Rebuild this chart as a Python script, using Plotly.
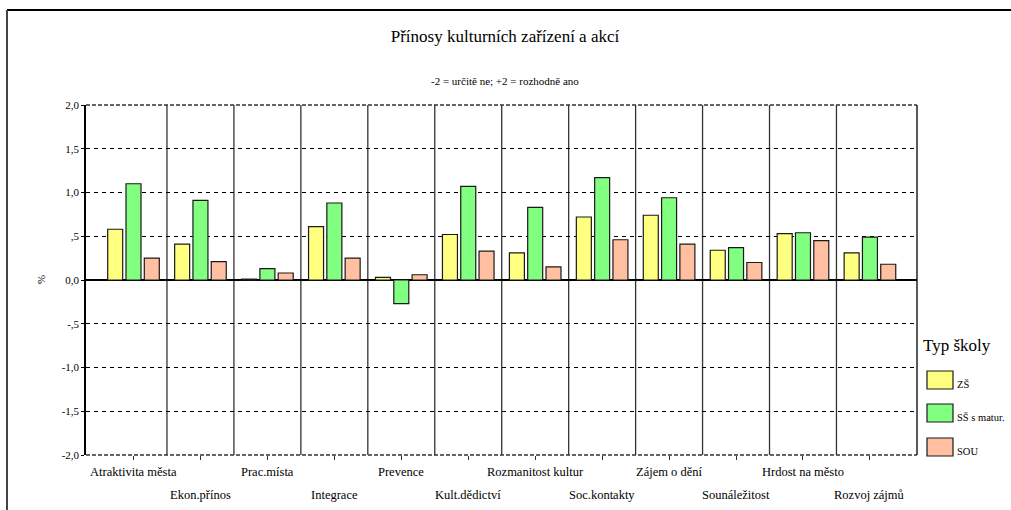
import plotly.graph_objects as go

categories = ["Atraktivita města", "Ekon.přínos", "Prac.místa", "Integrace", "Prevence",
              "Kult.dědictví", "Rozmanitost kultur", "Soc.kontakty", "Zájem o dění",
              "Sounáležitost", "Hrdost na město", "Rozvoj zájmů"]
zs = [0.58, 0.41, 0.01, 0.61, 0.03, 0.52, 0.31, 0.72, 0.74, 0.34, 0.53, 0.31]
ss_matur = [1.10, 0.91, 0.13, 0.88, -0.27, 1.07, 0.83, 1.17, 0.94, 0.37, 0.54, 0.49]
sou = [0.25, 0.21, 0.08, 0.25, 0.06, 0.33, 0.15, 0.46, 0.41, 0.20, 0.45, 0.18]
series_names = ["ZŠ", "SŠ s matur.", "SOU"]
series_values = [zs, ss_matur, sou]
series_colors = ["#FFFF80", "#80FF80", "#FFBFA0"]
ytick_vals = [2.0, 1.5, 1.0, 0.5, 0.0, -0.5, -1.0, -1.5, -2.0]
ytick_text = ["2,0", "1,5", "1,0", ",5", "0,0", "-,5", "-1,0", "-1,5", "-2,0"]

W, H = 1011, 510
L, R, T, B = 86, 917, 105, 455
FONT = "Liberation Serif"


def px2x(px):
    return (px - L) / (R - L)


def px2y(py):
    return (B - py) / (B - T)


fig = go.Figure()
for name, vals, col in zip(series_names, series_values, series_colors):
    fig.add_trace(go.Bar(x=categories, y=vals, name=name,
                         marker=dict(color=col, line=dict(color="#1a1a1a", width=1.2)),
                         showlegend=False))

shapes = []
# category separators
for i in range(len(categories) - 1):
    shapes.append(dict(type="line", xref="x", yref="paper", x0=i + 0.5, x1=i + 0.5,
                       y0=0, y1=1, line=dict(color="#333333", width=1.3), layer="below"))
# right border of plot area
shapes.append(dict(type="line", xref="paper", yref="paper", x0=1, x1=1, y0=0, y1=1,
                   line=dict(color="black", width=1.3)))
# top and bottom dashed edges of plot area
for yy in (0, 1):
    shapes.append(dict(type="line", xref="paper", yref="paper", x0=0, x1=1, y0=yy, y1=yy,
                       line=dict(color="#333333", width=1.6, dash="4px,2px")))
# outer frame
shapes.append(dict(type="line", xref="paper", yref="paper", x0=px2x(7), x1=px2x(1012),
                   y0=px2y(10), y1=px2y(10), line=dict(color="black", width=2)))
shapes.append(dict(type="line", xref="paper", yref="paper", x0=px2x(7), x1=px2x(7),
                   y0=px2y(10), y1=px2y(511), line=dict(color="#444444", width=2)))

annotations = []
# staggered category labels
for i, c in enumerate(categories):
    ypx = 472 if i % 2 == 0 else 495
    annotations.append(dict(x=c, xref="x", y=px2y(ypx), yref="paper", text=c,
                            showarrow=False, xanchor="center", yanchor="middle",
                            font=dict(family=FONT, size=12.5, color="black")))
# subtitle
annotations.append(dict(x=px2x(505), y=px2y(81), xref="paper", yref="paper",
                        text="-2 = určitě ne; +2 = rozhodně ano", showarrow=False,
                        xanchor="center", yanchor="middle",
                        font=dict(family=FONT, size=11, color="black")))
# y axis title
annotations.append(dict(x=px2x(41), y=px2y(280), xref="paper", yref="paper", text="%",
                        textangle=-90, showarrow=False, xanchor="center", yanchor="middle",
                        font=dict(family=FONT, size=11, color="black")))
# legend
annotations.append(dict(x=px2x(921), y=px2y(345), xref="paper", yref="paper",
                        text="Typ školy", showarrow=False, xanchor="left", yanchor="middle",
                        font=dict(family=FONT, size=17, color="black")))
sw_tops = [371, 404, 438]
for name, col, top in zip(series_names, series_colors, sw_tops):
    shapes.append(dict(type="rect", xref="paper", yref="paper", x0=px2x(927), x1=px2x(953),
                       y0=px2y(top + 18), y1=px2y(top), fillcolor=col,
                       line=dict(color="#1a1a1a", width=1.2)))
    annotations.append(dict(x=px2x(955), y=px2y(top + 13), xref="paper", yref="paper",
                            text=name, showarrow=False, xanchor="left", yanchor="middle",
                            font=dict(family=FONT, size=10.5, color="black")))

x0 = -0.7095
x1 = 11.703

fig.update_layout(
    width=W, height=H,
    margin=dict(l=L, r=W - R, t=T, b=H - B, pad=0),
    paper_bgcolor="white", plot_bgcolor="white",
    barmode="group", bargap=0.18, bargroupgap=0.18,
    title=dict(text="Přínosy kulturních zařízení a akcí", x=0.4995, xanchor="center",
               y=1 - 36 / H, yanchor="middle", xref="container", yref="container",
               font=dict(family=FONT, size=17, color="black")),
    font=dict(family=FONT, color="black"),
    xaxis=dict(type="category", range=[x0, x1], showgrid=False, showline=False,
               zeroline=False, ticks="outside", ticklen=4, tickcolor="#333333",
               showticklabels=False),
    yaxis=dict(range=[-2.0, 2.0], tickvals=ytick_vals, ticktext=ytick_text,
               showgrid=True, gridcolor="black", gridwidth=1, griddash="4px,4px",
               zeroline=True, zerolinecolor="black", zerolinewidth=1.6,
               showline=True, linecolor="black", linewidth=1.5,
               ticks="outside", ticklen=3, tickcolor="black",
               tickfont=dict(family=FONT, size=11, color="black")),
    shapes=shapes, annotations=annotations,
)

fig.write_html("out.html", config={"displayModeBar": False},
               post_script="document.body.style.margin='0px';")
